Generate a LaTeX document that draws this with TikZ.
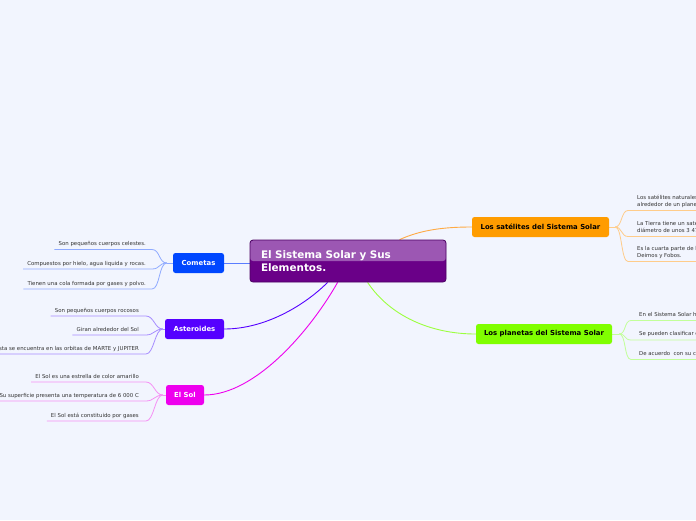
\documentclass[tikz,border=0pt]{standalone}
\usepackage{fontspec}
\setmainfont{DejaVu Sans}
\usetikzlibrary{calc,backgrounds}
\definecolor{bg}{HTML}{F2F5FE}
\definecolor{leaftext}{HTML}{333333}
\definecolor{cometa}{HTML}{0047FF}
\definecolor{cometaline}{HTML}{5A7DFF}
\definecolor{cometaleaf}{HTML}{8FAAFF}
\definecolor{aster}{HTML}{5500FF}
\definecolor{asterleaf}{HTML}{A68CFF}
\definecolor{sol}{HTML}{EE00EE}
\definecolor{solleaf}{HTML}{F590F5}
\definecolor{sat}{HTML}{FF9C00}
\definecolor{satline}{HTML}{FFAA44}
\definecolor{satleaf}{HTML}{FFCC8A}
\definecolor{plan}{HTML}{80FF00}
\definecolor{planline}{HTML}{9CFF40}
\definecolor{planleaf}{HTML}{C2FF99}
\definecolor{centerdark}{HTML}{6A0088}
\definecolor{centerlight}{HTML}{9C57B3}
\definecolor{centerborder}{HTML}{4B0062}
\begin{document}
\begin{tikzpicture}[x=1pt,y=-1pt,
  topic/.style={rounded corners=2.5pt, minimum height=20pt, inner sep=0pt,
    font=\fontsize{6.9}{8}\selectfont\bfseries, text=white},
  centerbox/.style={rounded corners=3pt, draw=centerborder, line width=0.8pt,
    fill=centerdark, minimum height=42pt, text width=174pt, inner xsep=11pt,
    inner ysep=0pt, align=left, text=white,
    font=\fontsize{10.4}{12.8}\selectfont\bfseries,
    path picture={\fill[centerlight] (path picture bounding box.north west)
      rectangle (path picture bounding box.east);}},
  leafL/.style={inner sep=0pt, anchor=base east, text=leaftext,
    font=\fontsize{5.4}{6.8}\selectfont},
  leafR/.style={inner sep=0pt, anchor=south west, align=left, text=leaftext,
    text depth=1.4pt, font=\fontsize{5.4}{6.8}\selectfont},
  conn/.style={line width=0.9pt},
  leafline/.style={line width=0.8pt}
]
\useasboundingbox (0,0) rectangle (696,520);
\begin{scope}
\clip (0,0) rectangle (696,520);

% central node
\node[centerbox] (sys) at (348,261) {El Sistema Solar y Sus\\Elementos.};

% main topics
\node[topic, fill=cometa, minimum width=51pt] (com) at (198.5,263) {Cometas};
\node[topic, fill=aster, minimum width=59pt] (ast) at (194.5,329) {Asteroides};
\node[topic, fill=sol, minimum width=38pt] (sol) at (185,395) {El Sol};
\node[topic, fill=sat, text=black, minimum width=137pt] (sat) at (540.5,227) {Los satélites del Sistema Solar};
\node[topic, fill=plan, text=black, minimum width=136pt] (pla) at (544,334) {Los planetas del Sistema Solar};

% leaves: Cometas
\node[leafL] (c1) at (146,245.5) {Son pequeños cuerpos celestes.};
\node[leafL] (c2) at (146,265) {Compuestos por hielo, agua liquida y rocas.};
\node[leafL] (c3) at (146,285) {Tienen una cola formada por gases y polvo.};

% leaves: Asteroides
\node[leafL] (a1) at (139,312) {Son pequeños cuerpos rocosos};
\node[leafL] (a2) at (139,331) {Giran alrededor del Sol};
\node[leafL] (a3) at (139,350) {Esta se encuentra en las orbitas de MARTE y JUPITER};

% leaves: El Sol
\node[leafL] (s1) at (139,378) {El Sol es una estrella de color amarillo};
\node[leafL] (s2) at (139,397) {Su superficie presenta una temperatura de 6 000 C};
\node[leafL] (s3) at (139,417) {El Sol está constituido por gases};

% leaves: satelites
\node[leafR] (t1) at (637,208) {Los satélites naturales son cuerpos celestes que giran\\alrededor de un planeta.};
\node[leafR] (t2) at (637,234) {La Tierra tiene un satélite natural, la Luna, que tiene un\\diámetro de unos 3 476 km.};
\node[leafR] (t3) at (637,259) {Es la cuarta parte de la Tierra. Marte tiene dos satélites:\\Deimos y Fobos.};

% leaves: planetas
\node[leafR] (p1) at (639,318) {En el Sistema Solar hay ocho planetas.};
\node[leafR] (p2) at (639,337.5) {Se pueden clasificar en interiores y exteriores.};
\node[leafR] (p3) at (639,357) {De acuerdo \ con su composición.};
\end{scope}

\begin{pgfonlayer}{background}
\fill[bg] (0,0) rectangle (696,520);
\begin{scope}
\clip (0,0) rectangle (696,520);
% main connectors
\draw[conn, cometaline] (com.east) -- (com.east -| sys.west);
\draw[conn, aster] ($(sys.south west)+(78,0)$) .. controls +(-23,23) and +(41,0) .. (ast.east);
\draw[conn, sol] ($(sys.south west)+(88,0)$) .. controls +(-26,46) and +(52,0) .. (sol.east);
\draw[conn, satline] ($(sys.north west)+(150,0)$) .. controls +(22,-10) and +(-27,0) .. (sat.west);
\draw[conn, planline] ($(sys.south west)+(118,0)$) .. controls +(22,33) and +(-46,0) .. (pla.west);

% Cometas branches
\coordinate (cf) at ($(com.west)+(-6,0)$);
\draw[leafline, cometaleaf] (com.west) -- (cf);
\foreach \n in {c1,c2,c3}{
  \draw[leafline, cometaleaf] (cf) .. controls +(-8,0) and +(8,0) .. ($(\n.base east)+(6,4)$) -- ($(\n.base west)+(-4,4)$);
}
% Asteroides branches
\coordinate (af) at ($(ast.west)+(-2,0)$);
\draw[leafline, asterleaf] (ast.west) -- (af);
\foreach \n in {a1,a2,a3}{
  \draw[leafline, asterleaf] (af) .. controls +(-8,0) and +(8,0) .. ($(\n.base east)+(7,4)$) -- ($(\n.base west)+(-4,4)$);
}
% El Sol branches
\coordinate (sf) at ($(sol.west)+(-3,0)$);
\draw[leafline, solleaf] (sol.west) -- (sf);
\foreach \n in {s1,s2,s3}{
  \draw[leafline, solleaf] (sf) .. controls +(-8,0) and +(8,0) .. ($(\n.base east)+(7,4)$) -- ($(\n.base west)+(-4,4)$);
}
% satelites branches
\coordinate (tf) at ($(sat.east)+(6,0)$);
\draw[leafline, satleaf] (sat.east) -- (tf);
\foreach \n in {t1,t2,t3}{
  \draw[leafline, satleaf] (tf) .. controls +(7,0) and +(-7,0) .. ($(\n.south west)+(-9,2.5)$) -- ($(\n.south east)+(5,2.5)$);
}
% planetas branches
\coordinate (pf) at ($(pla.east)+(7,0)$);
\draw[leafline, planleaf] (pla.east) -- (pf);
\foreach \n in {p1,p2,p3}{
  \draw[leafline, planleaf] (pf) .. controls +(7,0) and +(-7,0) .. ($(\n.south west)+(-8,2.5)$) -- ($(\n.south east)+(5,2.5)$);
}
\end{scope}
\end{pgfonlayer}
\end{tikzpicture}
\end{document}
